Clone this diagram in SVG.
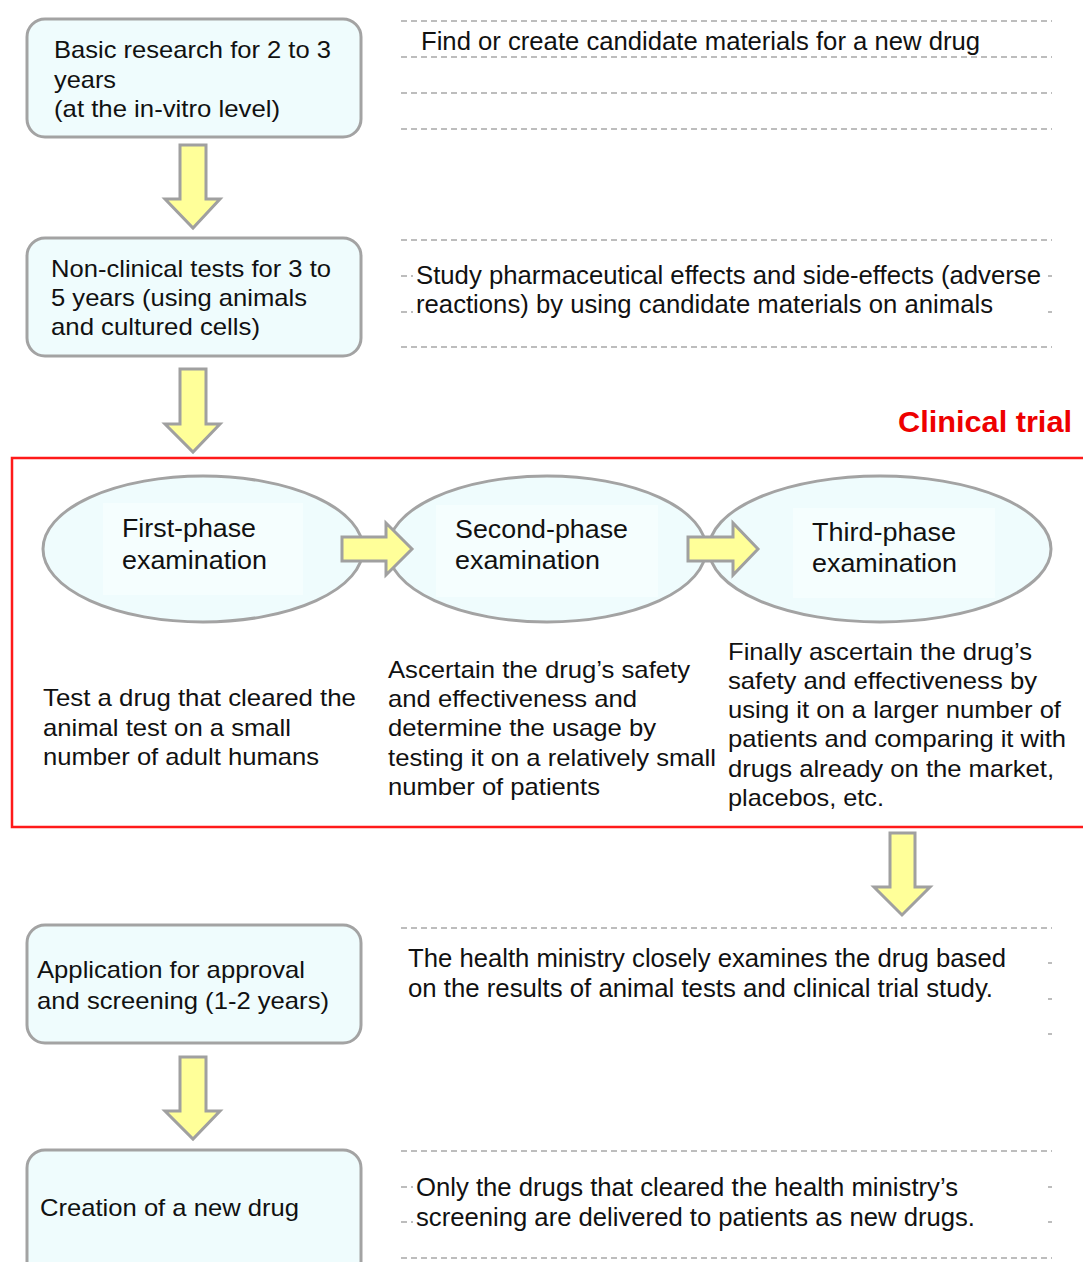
<svg xmlns="http://www.w3.org/2000/svg" width="1083" height="1262" viewBox="0 0 1083 1262">
<style>
text{font-family:"Liberation Sans",Arial,sans-serif;fill:#111}
.box{fill:#effcfd;stroke:#a3a3a3;stroke-width:3}
.ell{fill:#effcfd;stroke:#a3a3a3;stroke-width:3}
.inner{fill:#f5fefe;stroke:none}
.arr{fill:#ffff99;stroke:#a0a0a0;stroke-width:3;stroke-linejoin:miter}
.dash{stroke:#bdbdbd;stroke-width:2;stroke-dasharray:6 4;fill:none}
.t25{font-size:25px}
.t24{font-size:24px}
.ph{font-size:26px}
.nar{font-size:25px}
</style>
<rect width="1083" height="1262" fill="#fff"/>
<g id="guides">
<path class="dash" d="M401,21H1052M401,57H1052M401,93H1052M401,129H1052"/>
<path class="dash" d="M401,240H1052M401,347H1052M401,276H413M401,312H413M1048,276H1052M1048,312H1052"/>
<path class="dash" d="M401,928H1052M1048,963H1052M1048,999H1052M1048,1034H1052"/>
<path class="dash" d="M401,1151H1052M401,1258H1052M401,1187H413M401,1222H413M1048,1187H1052M1048,1222H1052"/>
</g>
<g id="node-basic">
<rect class="box" x="27" y="19" width="334" height="118" rx="18"/>
<text class="t24" x="54" y="58" textLength="277" lengthAdjust="spacingAndGlyphs">Basic research for 2 to 3</text>
<text class="t24" x="54" y="88" textLength="62" lengthAdjust="spacingAndGlyphs">years</text>
<text class="t24" x="54" y="117" textLength="226" lengthAdjust="spacingAndGlyphs">(at the in-vitro level)</text>
</g>
<g id="note-basic">
<text class="nar" x="421" y="50" textLength="559" lengthAdjust="spacingAndGlyphs">Find or create candidate materials for a new drug</text>
</g>
<g id="node-nonclinical">
<rect class="box" x="27" y="238" width="334" height="118" rx="18"/>
<text class="t24" x="51" y="277" textLength="280" lengthAdjust="spacingAndGlyphs">Non-clinical tests for 3 to</text>
<text class="t24" x="51" y="306" textLength="256" lengthAdjust="spacingAndGlyphs">5 years (using animals</text>
<text class="t24" x="51" y="335" textLength="209" lengthAdjust="spacingAndGlyphs">and cultured cells)</text>
</g>
<g id="note-nonclinical">
<text class="nar" x="416" y="284" textLength="625" lengthAdjust="spacingAndGlyphs">Study pharmaceutical effects and side-effects (adverse</text>
<text class="nar" x="416" y="313" textLength="577" lengthAdjust="spacingAndGlyphs">reactions) by using candidate materials on animals</text>
</g>
<g id="clinical-trial">
<rect x="12" y="458" width="1085" height="369" fill="none" stroke="#ff1a1a" stroke-width="2.5"/>
<text x="898" y="432" font-size="30" font-weight="bold" style="fill:#ee0000" textLength="174" lengthAdjust="spacingAndGlyphs">Clinical trial</text>
</g>
<g id="node-phase1">
<ellipse class="ell" cx="203" cy="549" rx="160" ry="73"/>
<rect class="inner" x="103" y="503" width="200" height="92"/>
<text class="ph" x="122" y="537" textLength="134" lengthAdjust="spacingAndGlyphs">First-phase</text>
<text class="ph" x="122" y="569" textLength="145" lengthAdjust="spacingAndGlyphs">examination</text>
</g>
<g id="node-phase2">
<ellipse class="ell" cx="547" cy="549" rx="159" ry="73"/>
<rect class="inner" x="436" y="505" width="222" height="92"/>
<text class="ph" x="455" y="538" textLength="173" lengthAdjust="spacingAndGlyphs">Second-phase</text>
<text class="ph" x="455" y="569" textLength="145" lengthAdjust="spacingAndGlyphs">examination</text>
</g>
<g id="node-phase3">
<ellipse class="ell" cx="880" cy="549" rx="171" ry="73"/>
<rect class="inner" x="793" y="508" width="202" height="90"/>
<text class="ph" x="812" y="541" textLength="144" lengthAdjust="spacingAndGlyphs">Third-phase</text>
<text class="ph" x="812" y="572" textLength="145" lengthAdjust="spacingAndGlyphs">examination</text>
</g>
<g id="desc-phase1">
<text class="t24" x="43" y="706" textLength="313" lengthAdjust="spacingAndGlyphs">Test a drug that cleared the</text>
<text class="t24" x="43" y="736" textLength="248" lengthAdjust="spacingAndGlyphs">animal test on a small</text>
<text class="t24" x="43" y="765" textLength="276" lengthAdjust="spacingAndGlyphs">number of adult humans</text>
</g>
<g id="desc-phase2">
<text class="t24" x="388" y="678" textLength="302" lengthAdjust="spacingAndGlyphs">Ascertain the drug’s safety</text>
<text class="t24" x="388" y="707" textLength="249" lengthAdjust="spacingAndGlyphs">and effectiveness and</text>
<text class="t24" x="388" y="736" textLength="268" lengthAdjust="spacingAndGlyphs">determine the usage by</text>
<text class="t24" x="388" y="766" textLength="328" lengthAdjust="spacingAndGlyphs">testing it on a relatively small</text>
<text class="t24" x="388" y="795" textLength="212" lengthAdjust="spacingAndGlyphs">number of patients</text>
</g>
<g id="desc-phase3">
<text class="t24" x="728" y="660" textLength="304" lengthAdjust="spacingAndGlyphs">Finally ascertain the drug’s</text>
<text class="t24" x="728" y="689" textLength="309" lengthAdjust="spacingAndGlyphs">safety and effectiveness by</text>
<text class="t24" x="728" y="718" textLength="333" lengthAdjust="spacingAndGlyphs">using it on a larger number of</text>
<text class="t24" x="728" y="747" textLength="338" lengthAdjust="spacingAndGlyphs">patients and comparing it with</text>
<text class="t24" x="728" y="777" textLength="326" lengthAdjust="spacingAndGlyphs">drugs already on the market,</text>
<text class="t24" x="728" y="806" textLength="156" lengthAdjust="spacingAndGlyphs">placebos, etc.</text>
</g>
<g id="node-application">
<rect class="box" x="27" y="925" width="334" height="118" rx="18"/>
<text class="t24" x="37" y="978" textLength="268" lengthAdjust="spacingAndGlyphs">Application for approval</text>
<text class="t24" x="37" y="1009" textLength="292" lengthAdjust="spacingAndGlyphs">and screening (1-2 years)</text>
</g>
<g id="note-application">
<text class="nar" x="408" y="967" textLength="598" lengthAdjust="spacingAndGlyphs">The health ministry closely examines the drug based</text>
<text class="nar" x="408" y="997" textLength="585" lengthAdjust="spacingAndGlyphs">on the results of animal tests and clinical trial study.</text>
</g>
<g id="node-creation">
<rect class="box" x="27" y="1150" width="334" height="130" rx="18"/>
<text class="t24" x="40" y="1216" textLength="259" lengthAdjust="spacingAndGlyphs">Creation of a new drug</text>
</g>
<g id="note-creation">
<text class="nar" x="416" y="1196" textLength="542" lengthAdjust="spacingAndGlyphs">Only the drugs that cleared the health ministry’s</text>
<text class="nar" x="416" y="1226" textLength="559" lengthAdjust="spacingAndGlyphs">screening are delivered to patients as new drugs.</text>
</g>
<g id="connectors">
<path class="arr" d="M180,145H206V199H220L193,228L165,199H180Z"/>
<path class="arr" d="M180,369H206V424H220L193,452L165,424H180Z"/>
<path class="arr" d="M342,537H386V523L412,549L386,575V561H342Z"/>
<path class="arr" d="M688,537H733V523L758,549L733,575V561H688Z"/>
<path class="arr" d="M890,833H915V887H930L902,915L874,887H890Z"/>
<path class="arr" d="M180,1057H206V1111H220L193,1139L165,1111H180Z"/>
</g>
</svg>
